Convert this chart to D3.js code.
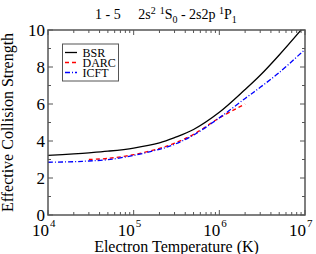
<!DOCTYPE html>
<html>
<head>
<meta charset="utf-8">
<script src="https://cdn.jsdelivr.net/npm/d3@7"></script>
<style>
	body {
		padding: 0;
		margin: 0;
		background: #fff;
	}
	.frame {
		fill: none;
		stroke: #555;
		stroke-width: 1.5;
	}
	.tick {
		stroke: #555;
		stroke-width: 1;
	}
</style>
</head>
<body>
<div id="content"></div>
<script>

// Data
var temps = [1e4, 2e4, 3e4, 5e4, 1e5, 2e5, 3e5, 5e5, 1e6, 2e6, 3e6, 5e6, 1e7];
var bsr  = [3.22, 3.3, 3.36, 3.45, 3.62, 3.9, 4.18, 4.62, 5.55, 6.78, 7.55, 8.65, 10.25];
var icft = [2.85, 2.88, 2.92, 2.99, 3.22, 3.55, 3.82, 4.32, 5.25, 6.3, 6.9, 7.7, 8.95];
var darcTemps = [3e4, 5e4, 1e5, 2e5, 3e5, 5e5, 1e6, 2e6];
var darc = [3.0, 3.06, 3.26, 3.6, 3.88, 4.36, 5.25, 6.0];

var series = [
	{name: 'BSR',  t: temps,     v: bsr,  color: '#000', dash: null},
	{name: 'DARC', t: darcTemps, v: darc, color: '#f00', dash: '4,3'},
	{name: 'ICFT', t: temps,     v: icft, color: '#00f', dash: '5,2,1,2'}
];
var yTicks = [0, 2, 4, 6, 8, 10];
var xTicks = [1e4, 1e5, 1e6, 1e7];

var w = 316, h = 254;
// plot box (avoid the name "top", it is window.top)
var pL = 48, pR = 305, pT = 30, pB = 215;

var svg = d3.select('#content')
	.append('svg')
	.attr('width', w)
	.attr('height', h)
	.attr('font-family', '"Liberation Serif", "Times New Roman", Times, serif');

var x = d3.scaleLog().domain([1e4, 1e7]).range([pL, pR]);
var y = d3.scaleLinear().domain([0, 10]).range([pB, pT]);

// clip for the curves
svg.append('clipPath').attr('id', 'clip')
	.append('rect')
	.attr('x', pL).attr('y', pT)
	.attr('width', pR - pL).attr('height', pB - pT);

// minor + major ticks on all four sides (inward)
var xMinor = [];
for (var e = 4; e < 7; e++) {
	for (var k = 2; k < 10; k++) xMinor.push(k * Math.pow(10, e));
}
var yMinor = d3.range(1, 10, 2);

var ticks = svg.append('g');
xMinor.forEach(function(t) {
	ticks.append('line').attr('class', 'tick')
		.attr('x1', x(t)).attr('x2', x(t)).attr('y1', pB).attr('y2', pB - 3);
	ticks.append('line').attr('class', 'tick')
		.attr('x1', x(t)).attr('x2', x(t)).attr('y1', pT).attr('y2', pT + 3);
});
xTicks.forEach(function(t) {
	ticks.append('line').attr('class', 'tick')
		.attr('x1', x(t)).attr('x2', x(t)).attr('y1', pB).attr('y2', pB - 5);
	ticks.append('line').attr('class', 'tick')
		.attr('x1', x(t)).attr('x2', x(t)).attr('y1', pT).attr('y2', pT + 5);
});
yMinor.forEach(function(v) {
	ticks.append('line').attr('class', 'tick')
		.attr('x1', pL).attr('x2', pL + 3).attr('y1', y(v)).attr('y2', y(v));
	ticks.append('line').attr('class', 'tick')
		.attr('x1', pR).attr('x2', pR - 3).attr('y1', y(v)).attr('y2', y(v));
});
yTicks.forEach(function(v) {
	ticks.append('line').attr('class', 'tick')
		.attr('x1', pL).attr('x2', pL + 5).attr('y1', y(v)).attr('y2', y(v));
	ticks.append('line').attr('class', 'tick')
		.attr('x1', pR).attr('x2', pR - 5).attr('y1', y(v)).attr('y2', y(v));
});

// curves
var line = d3.line().curve(d3.curveCatmullRom.alpha(0.5));
series.forEach(function(s) {
	var pts = s.t.map(function(t, i) { return [x(t), y(s.v[i])]; });
	svg.append('path')
		.attr('clip-path', 'url(#clip)')
		.attr('d', line(pts))
		.attr('fill', 'none')
		.attr('stroke', s.color)
		.attr('stroke-width', 1.3)
		.attr('stroke-dasharray', s.dash);
});

// frame
svg.append('rect').attr('class', 'frame')
	.attr('x', pL).attr('y', pT)
	.attr('width', pR - pL).attr('height', pB - pT);

// y tick labels
yTicks.forEach(function(v) {
	svg.append('text')
		.attr('x', 45).attr('y', y(v) + 6)
		.attr('text-anchor', 'end')
		.attr('font-size', 17)
		.text(v);
});

// x tick labels, 10 with superscript exponent
xTicks.forEach(function(t) {
	var ex = Math.round(Math.log10(t));
	svg.append('text')
		.attr('x', x(t) + 1).attr('y', 236)
		.attr('text-anchor', 'end')
		.attr('font-size', 17)
		.text('10');
	svg.append('text')
		.attr('x', x(t) + 2).attr('y', 227)
		.attr('font-size', 11)
		.text(ex);
});

// axis titles
svg.append('text')
	.attr('x', (pL + pR) / 2).attr('y', 252)
	.attr('text-anchor', 'middle')
	.attr('font-size', 16)
	.text('Electron Temperature (K)');
svg.append('text')
	.attr('transform', 'translate(13,' + ((pT + pB) / 2) + ') rotate(-90)')
	.attr('text-anchor', 'middle')
	.attr('font-size', 16)
	.text('Effective Collision Strength');

// title
var title = svg.append('text')
	.attr('x', 95).attr('y', 19)
	.attr('font-size', 14)
	.attr('xml:space', 'preserve')
	.style('white-space', 'pre');
title.append('tspan').text('1 - 5     2s');
title.append('tspan').attr('dy', -5).attr('font-size', 10).text('2');
title.append('tspan').attr('dx', 4).attr('font-size', 10).text('1');
title.append('tspan').attr('dy', 5).text('S');
title.append('tspan').attr('dy', 4).attr('font-size', 10).text('0');
title.append('tspan').attr('dy', -4).text(' - 2s2p ');
title.append('tspan').attr('dy', -5).attr('font-size', 10).text('1');
title.append('tspan').attr('dy', 5).text('P');
title.append('tspan').attr('dy', 4).attr('font-size', 10).text('1');

// legend
var lg = svg.append('g');
lg.append('rect')
	.attr('x', 62.5).attr('y', 44)
	.attr('width', 56).attr('height', 37)
	.attr('fill', '#fff')
	.attr('stroke', '#555')
	.attr('stroke-width', 1);
series.forEach(function(s, i) {
	var ly = 52.5 + i * 10;
	lg.append('line')
		.attr('x1', 65).attr('x2', 77)
		.attr('y1', ly).attr('y2', ly)
		.attr('stroke', s.color)
		.attr('stroke-width', 1.3)
		.attr('stroke-dasharray', s.dash);
	lg.append('text')
		.attr('x', 82.5).attr('y', ly + 4)
		.attr('font-size', 12)
		.text(s.name);
});

</script>
</body>
</html>
